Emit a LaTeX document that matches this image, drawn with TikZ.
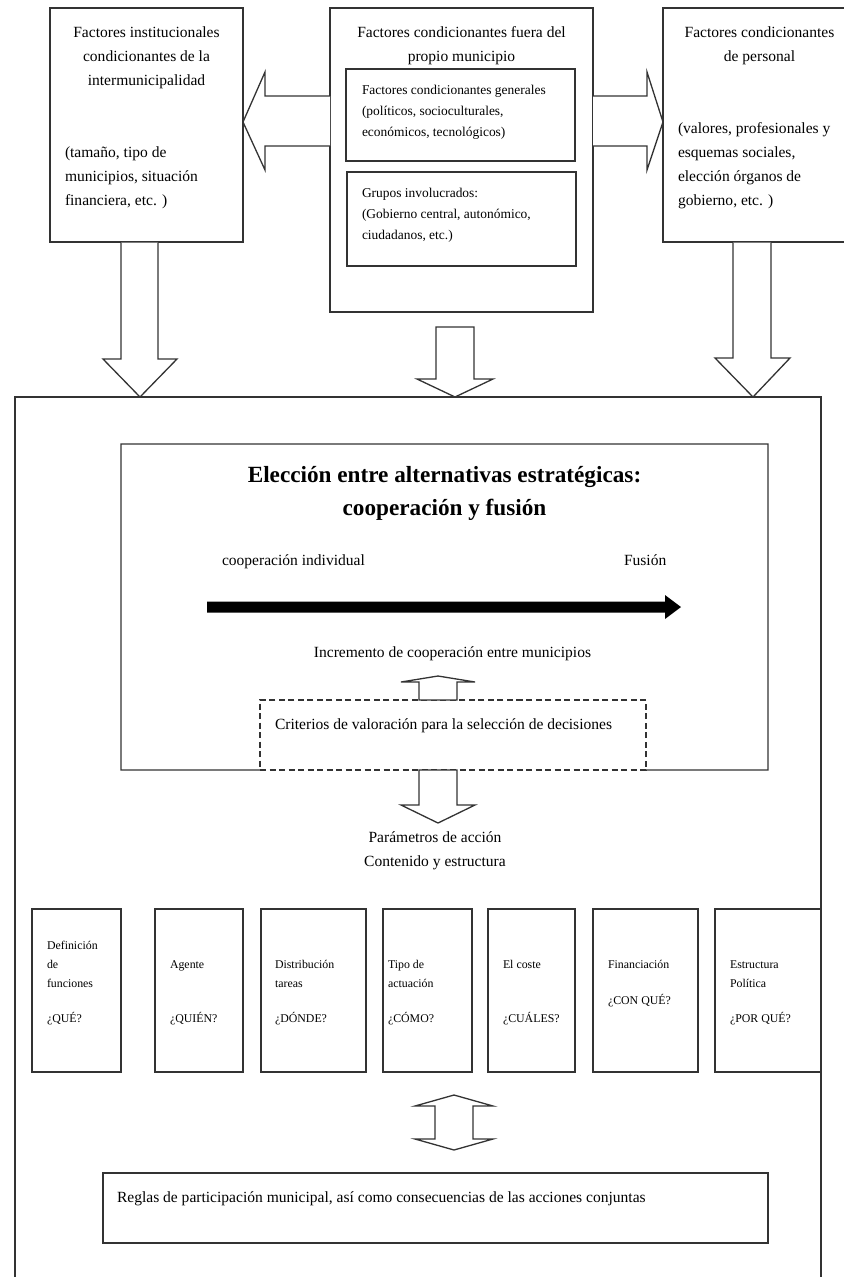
\documentclass[tikz,border=0pt]{standalone}
\usepackage{fontspec}
\setmainfont{Liberation Serif}
\tikzset{
  ln/.style={draw=black!80, line width=1.3bp},
  rbx/.style={ln, inner sep=0pt, outer sep=0pt},
  barrow/.style={ln, fill=white, line join=miter},
  critbox/.style={draw=black!80, line width=1.1bp, dash pattern=on 6bp off 3.5bp, fill=white},
  txt/.style={inner sep=0pt, outer sep=0pt, text=black, font=\fontsize{15.6}{24}\selectfont},
  smtxt/.style={inner sep=0pt, outer sep=0pt, text=black, font=\fontsize{13.5}{21}\selectfont},
  tiny/.style={inner sep=0pt, outer sep=0pt, text=black, font=\fontsize{11.9}{19}\selectfont},
  bigtitle/.style={inner sep=0pt, outer sep=0pt, text=black, font=\fontsize{23.3}{33}\selectfont\bfseries},
}
\newcommand\rbox[6][]{\node[rbx,#1,anchor=north west,minimum width={(#5-#3)*1bp},minimum height={(#6-#4)*1bp}] (#2) at (#3,#4) {};}
\begin{document}
\begin{tikzpicture}[x=1bp,y=-1bp]
\clip (0,0) rectangle (844,1277);
\fill[white] (0,0) rectangle (844,1277);
% ---------- top boxes ----------
\rbox{tl}{50}{8}{243}{242}
\rbox{tc}{330}{8}{593}{312}
\rbox{tcg}{346}{69}{575}{161}
\rbox{tcp}{347}{172}{576}{266}
\rbox{tr}{663}{8}{856}{242}
% (multi-line nodes: the base anchor is the baseline of the last line)
\node[txt, align=center, anchor=base] (tlt) at (146.5,85) {Factores institucionales\\condicionantes de la\\intermunicipalidad};
\node[txt, align=left, anchor=base west] (tlb) at (65,205) {(tamaño, tipo de\\municipios, situación\\financiera, etc. )};
\node[txt, align=center, anchor=base] (tct) at (461.5,61) {Factores condicionantes fuera del\\propio municipio};
\node[smtxt, align=left, anchor=base west] (tcgt) at (362,136.5) {Factores condicionantes generales\\(políticos, socioculturales,\\económicos, tecnológicos)};
\node[smtxt, align=left, anchor=base west] (tcpt) at (362,239.5) {Grupos involucrados:\\(Gobierno central, autonómico,\\ciudadanos, etc.)};
\node[txt, align=center, anchor=base] (trt) at (759.5,61) {Factores condicionantes\\de personal};
\node[txt, align=left, anchor=base west] (trb) at (678,205) {(valores, profesionales y\\esquemas sociales,\\elección órganos de\\gobierno, etc. )};
% ---------- horizontal block arrows ----------
\draw[barrow] (330,96) -- (265,96) -- (265,72) -- (243,122) -- (265,170) -- (265,146) -- (330,146);
\draw[barrow] (593,96) -- (647,96) -- (647,72) -- (663,122) -- (647,170) -- (647,146) -- (593,146);
% ---------- big box ----------
\rbox{big}{15}{397}{821}{1300}
% ---------- down block arrows ----------
\draw[barrow] (121,242.6) -- (121,359) -- (103,359) -- (140,397) -- (177,359) -- (158,359) -- (158,242.6);
\draw[barrow] (436,327) -- (474,327) -- (474,379) -- (493,379) -- (455,397) -- (417,379) -- (436,379) -- cycle;
\draw[barrow] (733,242.6) -- (733,358) -- (715,358) -- (753,397) -- (790,358) -- (771,358) -- (771,242.6);
% ---------- choice box ----------
\node[inner sep=0pt, outer sep=0pt, anchor=north west, minimum width=647bp, minimum height=326bp] (choice) at (121,444) {};
\draw[ln] (260,770) -- (choice.south west) -- (choice.north west) -- (choice.north east) -- (choice.south east) -- (646,770);
\node[bigtitle, align=center, anchor=base] (ctitle) at (444.5,515.5) {Elección entre alternativas estratégicas:\\cooperación y fusión};
\node[txt, anchor=base west] (coopind) at (222,565) {cooperación individual};
\node[txt, anchor=base west] (fusion) at (624,565) {Fusión};
\fill[black] (207,601.5) -- (665,601.5) -- (665,595) -- (681,607) -- (665,619) -- (665,612.5) -- (207,612.5) -- cycle;
\node[txt, anchor=base] (incr) at (452.5,657) {Incremento de cooperación entre municipios};
\rbox[critbox]{crit}{260}{700}{646}{770}
\node[txt, anchor=base west] (critt) at (275,729) {Criterios de valoración para la selección de decisiones};
\draw[barrow] (419,700) -- (419,682) -- (401,682) -- (438,676) -- (475,682) -- (457,682) -- (457,700) -- cycle;
\draw[barrow] (419,770) -- (419,805) -- (401,805) -- (438,823) -- (475,805) -- (457,805) -- (457,770) -- cycle;
\node[txt, align=center, anchor=base] (param) at (435,866) {Parámetros de acción\\Contenido y estructura};
% ---------- parameter boxes ----------
\rbox{p1}{32}{909}{121}{1072}
\rbox{p2}{155}{909}{243}{1072}
\rbox{p3}{261}{909}{366}{1072}
\rbox{p4}{383}{909}{472}{1072}
\rbox{p5}{488}{909}{575}{1072}
\rbox{p6}{593}{909}{698}{1072}
\rbox{p7}{715}{909}{821}{1072}
\node[tiny, align=left, anchor=base west] (p1a) at (47,987) {Definición\\de\\funciones};
\node[tiny, anchor=base west] (p1b) at (47,1022) {¿QUÉ?};
\node[tiny, anchor=base west] (p2a) at (170,968) {Agente};
\node[tiny, anchor=base west] (p2b) at (170,1022) {¿QUIÉN?};
\node[tiny, align=left, anchor=base west] (p3a) at (275,987) {Distribución\\tareas};
\node[tiny, anchor=base west] (p3b) at (275,1022) {¿DÓNDE?};
\node[tiny, align=left, anchor=base west] (p4a) at (388,987) {Tipo de\\actuación};
\node[tiny, anchor=base west] (p4b) at (388,1022) {¿CÓMO?};
\node[tiny, anchor=base west] (p5a) at (503,968) {El coste};
\node[tiny, anchor=base west] (p5b) at (503,1022) {¿CUÁLES?};
\node[tiny, anchor=base west] (p6a) at (608,968) {Financiación};
\node[tiny, anchor=base west] (p6b) at (608,1004) {¿CON QUÉ?};
\node[tiny, align=left, anchor=base west] (p7a) at (730,987) {Estructura\\Política};
\node[tiny, anchor=base west] (p7b) at (730,1022) {¿POR QUÉ?};
% ---------- double arrow ----------
\draw[barrow] (435,1106) -- (415,1106) -- (454,1095) -- (493,1106) -- (473,1106) -- (473,1139) -- (493,1139) -- (454,1150) -- (415,1139) -- (435,1139) -- cycle;
% ---------- rules box ----------
\rbox{rules}{103}{1173}{768}{1243}
\node[txt, anchor=base west] (rulest) at (117,1202) {Reglas de participación municipal, así como consecuencias de las acciones conjuntas};
\end{tikzpicture}
\end{document}
